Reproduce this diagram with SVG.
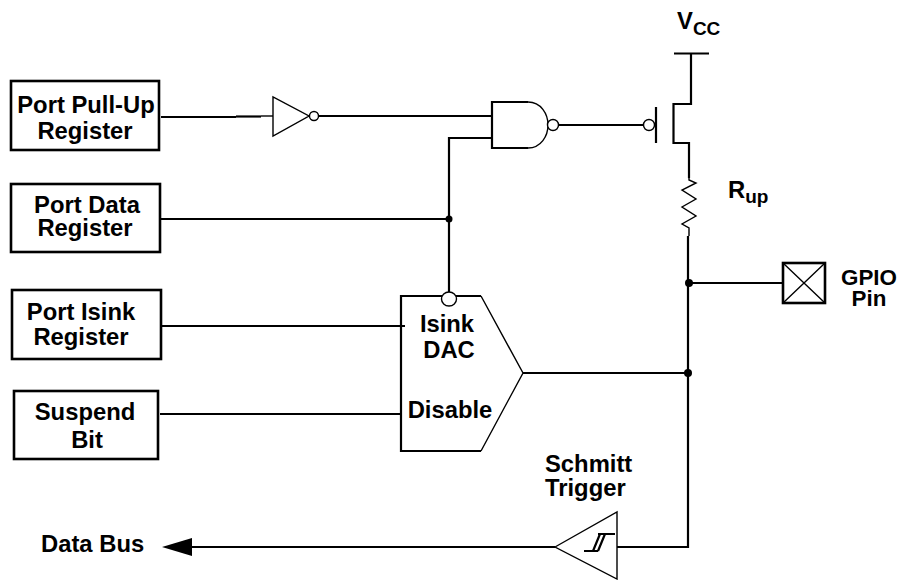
<svg xmlns="http://www.w3.org/2000/svg" width="899" height="580" viewBox="0 0 899 580">
<style>
text{font-family:"Liberation Sans",Arial,sans-serif;font-weight:700;font-size:23.8px;fill:#000}
.m{text-anchor:middle}
.sub{font-size:19px}
.gp{font-size:22.4px}
.box{fill:#fff;stroke:#000;stroke-width:2.6}
.w{fill:none;stroke:#000;stroke-width:2.2}
.t{fill:none;stroke:#000;stroke-width:1.4}
.b{fill:#fff;stroke:#000;stroke-width:1.4}
.d{fill:#000}
</style>
<rect width="899" height="580" fill="#fff"/>
<g id="connectors">
<path class="w" d="M161 117H236"/>
<path class="w" d="M236 116.500H261" stroke-width="3"/>
<path class="t" d="M261 116H273"/>
<path class="w" d="M319 116H492"/>
<path class="w" d="M492 138H449V292"/>
<path class="w" d="M161 219H449"/>
<path class="w" d="M161 326H405"/>
<path class="w" d="M160 414H401"/>
<path class="w" d="M558 125H644"/>
<path class="w" d="M691 53V104H673.500V143H689V178"/>
<path class="t" d="M689 178V180L696 183L682 190L696 199L682 207L696 216L682 224L689 228V236"/>
<path class="w" d="M688 236V547H617"/>
<path class="w" d="M688 283H783"/>
<path class="w" d="M523 373H688"/>
<path class="w" d="M555 547H190"/>
<path class="d" d="M162 547L192 538V556Z"/>
<circle class="d" cx="449" cy="219" r="3.500"/>
<circle class="d" cx="689" cy="283" r="4"/>
<circle class="d" cx="688" cy="373" r="4"/>
</g>
<g id="port-pull-up-register"><rect class="box" x="11" y="81" width="148" height="69"/><text class="m" x="86" y="113">Port Pull-Up</text><text class="m" x="85" y="139">Register</text></g>
<g id="port-data-register"><rect class="box" x="11" y="184" width="149" height="68"/><text class="m" x="87" y="213">Port Data</text><text class="m" x="85" y="236">Register</text></g>
<g id="port-isink-register"><rect class="box" x="12" y="290" width="149" height="69"/><text class="m" x="81" y="320">Port Isink</text><text class="m" x="81" y="345">Register</text></g>
<g id="suspend-bit"><rect class="box" x="14" y="391" width="144" height="68"/><text class="m" x="85" y="420">Suspend</text><text class="m" x="87" y="448">Bit</text></g>
<g id="inverter"><path class="b" d="M273 97V136L309 116Z"/><circle class="b" cx="314" cy="116" r="4.500"/></g>
<g id="nand"><path d="M528 102H492V148H528" fill="none" stroke="#000" stroke-width="2.200"/><path class="t" d="M528 102C541 102 548 114 548 125C548 136 541 148 528 148"/><circle class="b" cx="553" cy="125" r="5.500"/></g>
<g id="pmos"><circle class="b" cx="649" cy="125" r="5.500"/><path class="w" d="M656 107V143"/></g>
<g id="vcc"><path class="w" d="M674 53.500H709"/><text x="677" y="29">V<tspan dy="6" class="sub">CC</tspan></text></g>
<g id="rup"><text x="728" y="198">R<tspan dy="5" class="sub">up</tspan></text></g>
<g id="gpio-pin"><rect class="box" x="783" y="263" width="42" height="40"/><path class="t" d="M783 263L825 303M825 263L783 303"/><text class="m gp" x="869" y="285">GPIO</text><text class="m gp" x="869" y="306">Pin</text></g>
<g id="isink-dac"><path class="t" d="M481 296L523 373L481 451"/><path class="w" d="M481 296H401V451H481"/><ellipse class="b" cx="449" cy="299" rx="7.500" ry="7"/><text class="m" x="447" y="332">Isink</text><text class="m" x="449" y="358">DAC</text><text class="m" x="450" y="418">Disable</text></g>
<g id="schmitt-trigger"><path class="b" d="M555 547L617 512V579Z"/><path class="w" d="M584 551H598M593 551L600 534M598 551L605 534M598 534H615"/><text x="545" y="472">Schmitt</text><text x="545" y="496">Trigger</text></g>
<g id="data-bus"><text x="41" y="552">Data Bus</text></g>
</svg>
